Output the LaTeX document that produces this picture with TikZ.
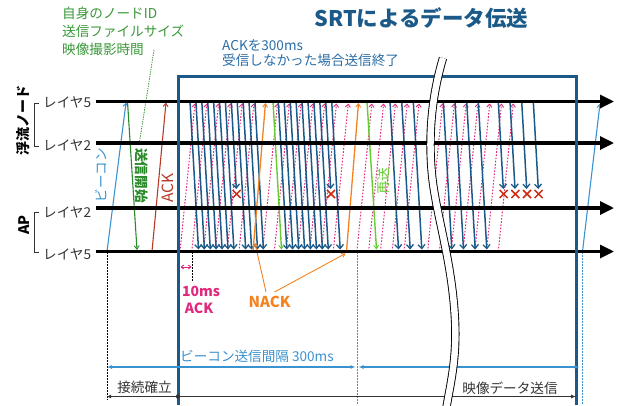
\documentclass[tikz,border=0pt]{standalone}
\usepackage{fontspec}
\setmainfont{Noto Sans CJK JP}
\usetikzlibrary{arrows.meta}
\definecolor{dblue}{HTML}{1B5A88}
\definecolor{mblue}{HTML}{2A6CA5}
\definecolor{lblue}{HTML}{3A92D0}
\definecolor{tgreen}{HTML}{3A983A}
\definecolor{sgreen}{HTML}{2A8A2A}
\definecolor{lgreen}{HTML}{66CC33}
\definecolor{ackred}{HTML}{B83A26}
\definecolor{pk}{HTML}{E0287D}
\definecolor{orng}{HTML}{F5821F}
\definecolor{xred}{HTML}{CC2A10}
\definecolor{tgray}{HTML}{333333}
\begin{document}
\begin{tikzpicture}[x=1pt,y=-1pt,
  mainline/.style={line width=3.2pt,-{Triangle[length=14pt,width=13pt]}},
  data/.style={draw=dblue,line width=1.5pt,-{Straight Barb[length=4pt,width=7pt,line width=1.3pt]}},
  ackd/.style={draw=pk,line width=1pt,dash pattern=on 1.6pt off 1.6pt,-{Straight Barb[length=3pt,width=5pt,line width=0.9pt]}},
  thinarr/.style={line width=1.1pt,-{Straight Barb[length=3.5pt,width=5pt,line width=0.9pt]}},
  lbl/.style={font=\fontsize{13.6}{15}\selectfont,inner sep=0pt},
  xmark/.style={draw=xred,line width=1.5pt}
]
\useasboundingbox (0,0) rectangle (620,405);

% title and notes
\node[font=\bfseries\fontsize{21.5}{24}\selectfont,text=dblue] (title) at (421.5,18) {SRTによるデータ伝送};
\node[lbl,text=tgreen,anchor=west] (info1) at (62,13) {自身のノードID};
\node[lbl,text=tgreen,anchor=west] (info2) at (62,31) {送信ファイルサイズ};
\node[lbl,text=tgreen,anchor=west] (info3) at (62,49) {映像撮影時間};
\node[lbl,text=mblue,anchor=west] (end1) at (222,45) {ACKを300ms};
\node[lbl,text=mblue,anchor=west] (end2) at (222,60) {受信しなかった場合送信終了};

% left labels
\node[lbl,text=tgray,anchor=west] (l5a) at (43,102) {レイヤ5};
\node[lbl,text=tgray,anchor=west] (l2a) at (43,145) {レイヤ2};
\node[lbl,text=tgray,anchor=west] (l2b) at (43,212) {レイヤ2};
\node[lbl,text=tgray,anchor=west] (l5b) at (43,254) {レイヤ5};
\node[font=\bfseries\fontsize{14}{16}\selectfont,rotate=90,inner sep=0pt] (node) at (23.5,120) {浮流ノード};
\node[font=\bfseries\fontsize{14.5}{16}\selectfont,rotate=90,inner sep=0pt] (ap) at (24,225) {AP};
\draw[tgray,line width=0.8pt] (39,103) -- (34.5,103) -- (34.5,146) -- (39,146);
\draw[tgray,line width=0.8pt] (39,212) -- (34.5,212) -- (34.5,252) -- (39,252);

% vertical guides below
\draw[black,line width=0.8pt,dash pattern=on 1.5pt off 1.5pt] (107,252) -- (107,400);
\draw[black,line width=0.8pt,dash pattern=on 1.5pt off 1.5pt] (192,252) -- (192,281);
\draw[lblue,line width=0.9pt,dash pattern=on 1.5pt off 1.5pt] (357,252) -- (357,405);
\draw[lblue,line width=0.9pt,dash pattern=on 1.5pt off 1.5pt] (582.5,252) -- (582.5,405);

% connection phase
\coordinate (bcS) at (107,251.5); \coordinate (bcE) at (126,102.5);
\draw[thinarr,lblue] (bcS) -- (bcE);
\node[lbl,text=lblue,rotate=90] (bclab) at (101,175) {ビーコン};
\coordinate (stS) at (127.5,101.5); \coordinate (stE) at (137,250);
\draw[thinarr,sgreen] (stS) -- (stE);
\node[lbl,text=sgreen,rotate=-90,font=\bfseries\fontsize{13.6}{15}\selectfont] (stlab) at (141.5,175.5) {送信開始};
\draw[sgreen,line width=0.8pt,dash pattern=on 1.2pt off 1.2pt] (154,50) -- (139,145);
\coordinate (akS) at (152,251.5); \coordinate (akE) at (166,102.5);
\draw[thinarr,ackred] (akS) -- (akE);
\node[text=ackred,rotate=90,font=\fontsize{15.5}{17}\selectfont,inner sep=0pt] (aklab) at (168,188) {ACK};

% ACK (pink dotted)
\foreach \k in {0,...,27}{
  \ifnum\k=6\else\ifnum\k=14\else\ifnum\k=20\else
    \pgfmathsetmacro{\tx}{195+11.79*\k}
    \draw[ackd] (\tx-15,251.5) -- (\tx,103.5);
  \fi\fi\fi
}

% data packets
\foreach \t in {190,195.9,201.8,207.7,213.6,219.5,225.4,237.2,243.1,249,254.9,
                278.3,284.2,290.2,296.1,302,308,313.9,319.8,331.7,
                390,401.7,413.3,443.3,455,466.7,478.3}{
  \draw[data] (\t,101.5) -- (\t+8.5,249.5);
}
\foreach \t in {231.3,325.7,498.3,510,521.7,533.3}{
  \draw[data] (\t,101.5) -- (\t+5,189);
  \draw[xmark] (\t+1.3,190) -- (\t+9.3,198) (\t+1.3,198) -- (\t+9.3,190);
}

% retransmissions
\draw[thinarr,lgreen,line width=1.4pt] (273,101.5) -- (281.5,249.5);
\draw[thinarr,lgreen,line width=1.4pt] (367,101.5) -- (376.5,249.5);
\node[lbl,text=lgreen,rotate=90] (relab) at (383.5,181) {再送};

% NACK
\draw[thinarr,orng,line width=1.3pt] (253,251.5) -- (265.5,103);
\draw[thinarr,orng,line width=1.3pt] (346.5,251.5) -- (358.5,103);
\node[font=\bfseries\fontsize{15}{17}\selectfont,text=orng,inner sep=0pt] (nack) at (269.5,302) {NACK};
\draw[orng,line width=0.9pt,-{Straight Barb[length=3pt,width=4pt]}] (266,292) -- (255,243);
\draw[orng,line width=0.9pt,-{Straight Barb[length=3pt,width=4pt]}] (274.5,292) -- (345.5,253.5);

% 10ms ACK
\draw[pk,line width=0.9pt,{Straight Barb[length=2.5pt,width=4pt]}-{Straight Barb[length=2.5pt,width=4pt]}] (180.5,267) -- (191.5,267);
\node[font=\bfseries\fontsize{14}{16}\selectfont,text=pk,inner sep=0pt] (ms10) at (201,291) {10ms};
\node[font=\bfseries\fontsize{14}{16}\selectfont,text=pk,inner sep=0pt] (ms10b) at (199,308.5) {ACK};

% second beacon
\draw[thinarr,lblue] (582.5,251.5) -- (600,103.5);

% main layer lines
\foreach \y in {101.5,143,208,251.5}{
  \draw[mainline] (96,\y) -- (614,\y);
}

% SRT session frame
\draw[dblue,line width=3pt] (178,405) -- (178,76.5) -- (576,76.5) -- (576,405);

% bottom dimensions
\node[lbl,text=lblue,anchor=west] (bilab) at (180,356) {ビーコン送信間隔 300ms};
\draw[lblue,line width=1.1pt,{Latex[length=5pt,width=4pt]}-{Latex[length=5pt,width=4pt]}] (107,367) -- (355.5,367);
\draw[lblue,line width=1.1pt,{Latex[length=5pt,width=4pt]}-{Latex[length=5pt,width=4pt]}] (358.5,367) -- (579.5,367);
\node[lbl,text=tgray] (conn) at (144.5,387.5) {接続確立};
\node[lbl,text=tgray] (video) at (510,388) {映像データ送信};
\draw[tgray,line width=1.1pt,{Latex[length=4pt,width=4pt]}-] (107,396.5) -- (178,396.5);
\fill[tgray] (178,396.5) circle (2.2pt);
\draw[tgray,line width=1.1pt,-{Latex[length=5pt,width=4pt]}] (178,396.5) -- (576,396.5);

% omission break
\draw[black,line width=0.9pt,double=white,double distance=6.5pt]
  (443,58) .. controls (432,95) and (428,135) .. (432,175)
  .. controls (436,215) and (452,260) .. (455,320)
  .. controls (457,360) and (450,385) .. (446,410);
\end{tikzpicture}
\end{document}
